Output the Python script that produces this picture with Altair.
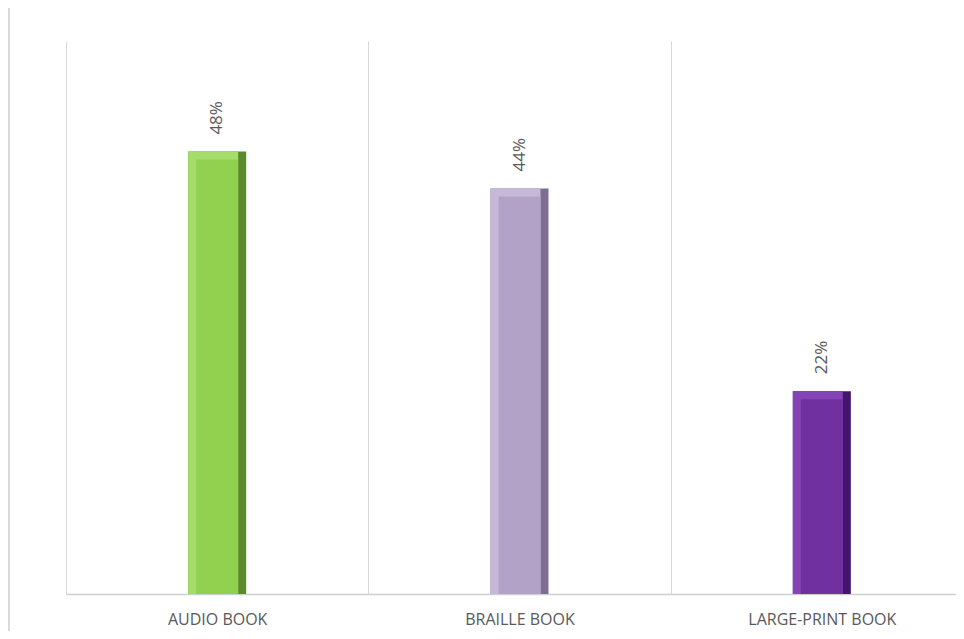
import altair as alt
import pandas as pd

categories = ["AUDIO BOOK", "BRAILLE BOOK", "LARGE-PRINT BOOK"]
values = [48, 44, 22]
labels = ["48%", "44%", "22%"]
main_colors = ["#92d050", "#b3a2c7", "#7030a0"]
light_colors = ["#a6dc6a", "#c6b8d8", "#8444b6"]
dark_colors = ["#5b8a2c", "#7d6d94", "#42166a"]

df = pd.DataFrame({
    "cat": categories,
    "val": values,
    "label": labels,
    "main": main_colors,
    "light": light_colors,
    "dark": dark_colors,
})

x = alt.X(
    "cat:N",
    sort=categories,
    scale=alt.Scale(range=[0, 907], paddingInner=0, paddingOuter=0),
    axis=alt.Axis(
        title=None,
        labelAngle=0,
        labelFont="Open Sans",
        labelFontSize=16,
        labelColor="#595959",
        labelPadding=17,
        ticks=False,
        tickSize=0,
        tickBand="extent",
        grid=True,
        gridColor="#d9d9d9",
        gridWidth=1,
        domainColor="#cfcfcf",
        domainWidth=1.5,
    ),
)
y = alt.Y("val:Q", scale=alt.Scale(domain=[0, 60]), axis=None)

base = alt.Chart(df)

outer = base.mark_bar(size=58).encode(x=x, y=y, color=alt.Color("dark:N", scale=None))
light = base.mark_bar(size=50, xOffset=-4).encode(
    x=x, y=y, y2=alt.value(545), color=alt.Color("light:N", scale=None)
)
face = base.mark_bar(size=42, xOffset=0, yOffset=8).encode(
    x=x, y=y, y2=alt.value(537), color=alt.Color("main:N", scale=None)
)
text = base.mark_text(
    angle=270, align="left", baseline="middle", dx=17,
    font="Open Sans", fontSize=17, color="#595959"
).encode(x=x, y=y, text="label:N")

border = alt.Chart(pd.DataFrame({"a": [0]})).mark_rule(color="#d9d9d9", strokeWidth=2).encode(
    x=alt.value(-57), y=alt.value(-33), y2=alt.value(590)
)

chart = alt.layer(border, outer, light, face, text).properties(
    width=890,
    height=553,
    background="white",
    autosize=alt.AutoSizeParams(type="none"),
    padding={"left": 58, "top": 33, "right": 0, "bottom": 37},
).configure_view(stroke=None)

chart.save("out.html", embed_options={"renderer": "svg", "actions": False})
